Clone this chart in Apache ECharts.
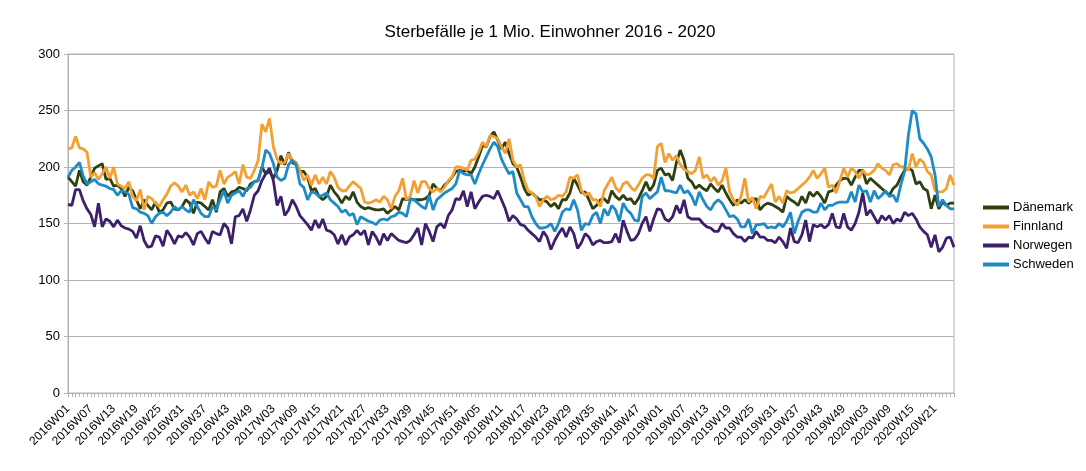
<!DOCTYPE html>
<html>
<head>
<meta charset="utf-8">
<script src="https://cdn.jsdelivr.net/npm/echarts@6/dist/echarts.min.js"></script>
<style>
html,body{margin:0;padding:0;background:#fff;}
#chart{width:1086px;height:471px;}
</style>
</head>
<body>
<div id="chart"></div>
<script>
// Category setup: ISO weeks 2016W01 .. 2020W26
const years = [2016, 2017, 2018, 2019, 2020];
const weeksPerYear = [52, 52, 52, 52, 26];

const seriesNames = ['Dänemark', 'Finnland', 'Norwegen', 'Schweden'];
const yTicks = [0, 50, 100, 150, 200, 250, 300];

const daenemark = [
191,187,183,197,187,184,191,199,201,203,189,190,183,
184,181,174,182,179,171,163,171,166,162,169,160,162,168,169,163,162,165,171,168,159,169,168,165,162,
171,160,178,181,174,178,179,182,181,179,185,187,188,200,194,196,190,197,210,202,213,204,202,196,196,191,179,181,174,171,174,184,178,174,168,
174,171,178,169,165,163,164,163,162,162,163,159,162,165,162,172,171,172,171,171,171,172,175,185,181,179,184,187,191,196,197,196,197,194,200,209,219,218,
227,231,224,216,222,212,203,200,191,181,175,177,174,171,171,169,165,168,163,171,171,177,190,184,177,178,171,163,166,171,172,168,179,174,171,175,171,172,
167,172,179,187,179,184,197,199,193,194,188,204,215,206,190,187,181,184,181,179,185,181,178,184,177,171,166,171,168,171,168,171,172,162,166,168,167,165,163,
160,174,171,169,166,174,168,178,174,178,174,168,178,179,184,188,190,190,184,191,197,197,185,190,187,184,181,178,175,181,184,191,197,199,197,185,187,181,179,163,175,163,169,166,168,168
];

const finnland = [
216,217,227,217,216,213,191,195,189,194,200,190,200,185,
183,181,187,174,170,180,162,174,172,168,165,171,176,183,186,183,178,184,175,178,172,
181,171,187,182,183,197,185,191,193,196,185,202,191,190,197,206,238,231,243,218,207,203,204,212,206,204,197,188,193,184,193,185,191,185,196,191,182,179,
179,183,187,184,181,169,168,169,171,169,174,171,163,174,179,190,171,174,188,177,187,187,181,178,181,178,182,188,191,200,200,199,197,206,207,213,222,218,
228,227,225,218,212,225,206,200,202,188,179,177,174,165,171,174,171,172,175,174,178,191,190,193,179,175,177,171,171,165,179,185,191,182,178,185,187,182,
179,184,190,193,193,190,218,221,204,212,206,210,202,198,196,194,197,209,190,193,187,191,184,188,199,178,171,166,174,190,169,173,163,174,173,179,185,169,174,
168,179,177,178,181,184,187,191,197,190,194,199,182,184,177,188,199,191,199,196,190,197,193,194,197,203,199,197,193,202,203,200,200,197,212,200,207,204,196,193,179,178,178,181,193,184
];

const norwegen = [
167,166,180,180,170,163,158,147,168,147,154,152,147,153,
148,146,145,143,137,148,135,129,130,139,138,130,144,139,132,139,138,142,138,131,141,
143,137,132,143,141,140,150,146,132,156,157,163,152,162,175,179,188,194,199,188,166,174,157,162,171,165,157,153,149,144,153,146,154,144,143,140,132,140,
131,138,140,144,140,144,131,143,138,131,141,135,141,138,135,134,133,135,140,146,131,150,143,134,147,150,146,157,162,172,171,179,165,178,163,169,174,175,
174,172,179,171,163,152,157,154,149,148,144,141,138,134,143,138,127,135,141,146,138,147,141,128,133,141,138,131,134,135,133,133,134,141,133,153,143,135,
136,141,150,156,143,154,163,162,154,152,156,166,159,171,156,154,154,154,150,147,146,143,143,150,146,146,141,138,138,134,138,137,143,138,138,135,135,133,138,
134,128,146,134,133,140,153,134,149,147,149,146,149,159,147,146,159,147,144,150,160,177,157,162,156,150,157,153,157,150,154,152,160,157,159,154,147,143,140,129,140,125,129,137,138,129
];

const schweden = [
191,197,200,204,192,185,187,189,185,184,183,181,180,
175,179,178,176,164,163,160,159,157,150,156,159,160,157,160,165,162,165,162,160,171,165,
159,156,156,165,162,171,179,168,175,177,179,174,181,182,187,188,199,215,212,203,191,188,190,202,206,202,185,182,171,178,177,174,175,177,171,168,165,160,
162,157,159,149,156,154,152,151,149,153,154,153,156,157,160,159,156,171,171,168,165,163,175,162,171,174,177,179,181,185,197,194,193,193,185,194,202,209,
216,222,218,207,200,194,196,177,171,165,165,156,150,146,146,147,150,143,150,160,163,162,171,162,144,150,149,157,160,150,163,157,166,162,152,168,162,159,
153,152,174,177,172,175,178,191,179,179,178,177,184,177,179,174,166,178,171,165,162,168,171,168,162,156,157,154,147,147,154,141,149,149,150,146,147,146,150,
147,152,160,141,152,160,162,162,160,160,168,162,166,166,168,169,169,169,178,169,184,178,179,169,179,172,175,179,174,175,169,184,196,228,250,247,225,221,216,209,193,165,171,166,163,163
];

const colors = ['#2f4010', '#f3a033', '#3d1f6b', '#1f8bc6'];

const categories = [];
years.forEach((y, i) => {
  for (let w = 1; w <= weeksPerYear[i]; w++) {
    categories.push(y + 'W' + (w < 10 ? '0' + w : w));
  }
});

const dataSets = [daenemark, finnland, norwegen, schweden];

const chart = echarts.init(document.getElementById('chart'), null, {renderer: 'canvas'});
chart.setOption({
  animation: false,
  backgroundColor: '#ffffff',
  title: {
    text: 'Sterbefälle je 1 Mio. Einwohner 2016 - 2020',
    left: 545, top: 19, textAlign: 'center',
    textStyle: {fontFamily: 'Liberation Sans', fontSize: 17, fontWeight: 'normal', color: '#000'}
  },
  legend: {
    orient: 'vertical',
    left: 978, top: 196,
    icon: 'rect', itemWidth: 26, itemHeight: 4, itemGap: 6,
    data: seriesNames,
    textStyle: {fontFamily: 'Liberation Sans', fontSize: 13, color: '#000', padding: [0,0,0,-1]}
  },
  grid: {
    left: 68, right: 132, top: 54, bottom: 78,
    show: true, borderColor: '#b3b3b3', borderWidth: 1
  },
  xAxis: {
    type: 'category',
    data: categories,
    boundaryGap: false,
    axisLine: {lineStyle: {color: '#b3b3b3'}},
    axisTick: {show: true, interval: 0, length: 4, lineStyle: {color: '#b3b3b3'}},
    axisLabel: {interval: 5, rotate: 45, fontFamily: 'Liberation Sans', fontSize: 12, color: '#000', margin: 14},
    splitLine: {show: false}
  },
  yAxis: {
    type: 'value',
    min: yTicks[0], max: yTicks[yTicks.length - 1], interval: 50,
    axisLine: {show: true, lineStyle: {color: '#b3b3b3'}},
    axisTick: {show: true, length: 4, lineStyle: {color: '#b3b3b3'}},
    axisLabel: {fontFamily: 'Liberation Sans', fontSize: 13, color: '#000', margin: 8},
    splitLine: {lineStyle: {color: '#b3b3b3'}}
  },
  series: seriesNames.map((n, i) => ({
    name: n, type: 'line', data: dataSets[i],
    showSymbol: false, symbol: 'none',
    lineStyle: {width: 2.8, color: colors[i]},
    itemStyle: {color: colors[i]}
  }))
});
</script>
</body>
</html>
